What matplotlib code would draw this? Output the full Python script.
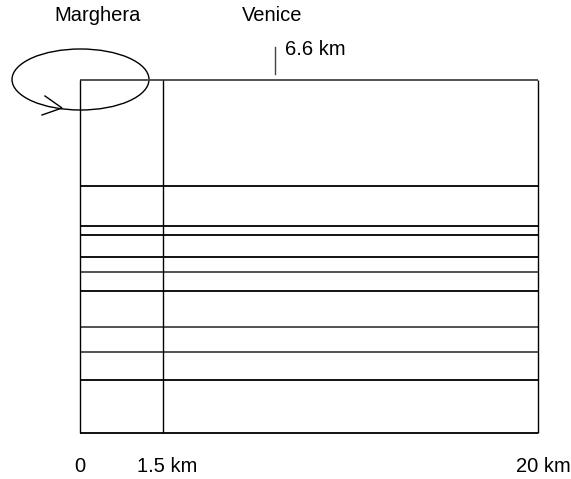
import matplotlib
matplotlib.use("Agg")
import matplotlib.pyplot as plt
from matplotlib.patches import Ellipse

plt.rcParams['font.family'] = ['Liberation Sans', 'DejaVu Sans']

# Schematic layout (drawing units)
col_edges = [80, 163, 538]
row_edges = [80, 186, 226, 235, 257, 272, 291, 327, 352, 380, 433]
row_colors = ['#444444', 'black', 'black', 'black', 'black', '#444444', 'black', '#444444', '#444444', 'black', 'black']
bottom_labels = ['0', '1.5 km', '20 km']
bottom_label_x = [80, 167, 543]
top_labels = ['Marghera', 'Venice']
top_label_x = [98, 272]
marker_label = '6.6 km'
marker_x = 275

fig = plt.figure(figsize=(5.71, 4.79), dpi=100)
ax = fig.add_axes([0, 0, 1, 1])
ax.set_xlim(0, 571)
ax.set_ylim(479, 0)
ax.axis('off')

x0, x1 = col_edges[0], col_edges[-1]
y0, y1 = row_edges[0], row_edges[-1]
for y, c in zip(row_edges, row_colors):
    ax.plot([x0, x1], [y, y], color=c, lw=1.3, solid_capstyle='butt')
for x in col_edges:
    ax.plot([x, x], [y0, y1], color='black', lw=1.0, solid_capstyle='butt')

# Ellipse with arrow (circulation at Marghera)
ax.add_patch(Ellipse((80.5, 79.5), 137, 61, fill=False, edgecolor='black', lw=1.0))
ax.plot([45, 62, 42], [96, 108, 115], color='black', lw=1.0)

# tick at Venice
ax.plot([marker_x, marker_x], [47, 74], color='#444444', lw=1.0)
ax.text(285, 49, marker_label, fontsize=14.5, ha='left', va='center')

for lab, x in zip(top_labels, top_label_x):
    ax.text(x, 15, lab, fontsize=14.5, ha='center', va='center')
for lab, x in zip(bottom_labels, bottom_label_x):
    ax.text(x, 466, lab, fontsize=14.5, ha='center', va='center')

fig.savefig('out.png', dpi=100)
